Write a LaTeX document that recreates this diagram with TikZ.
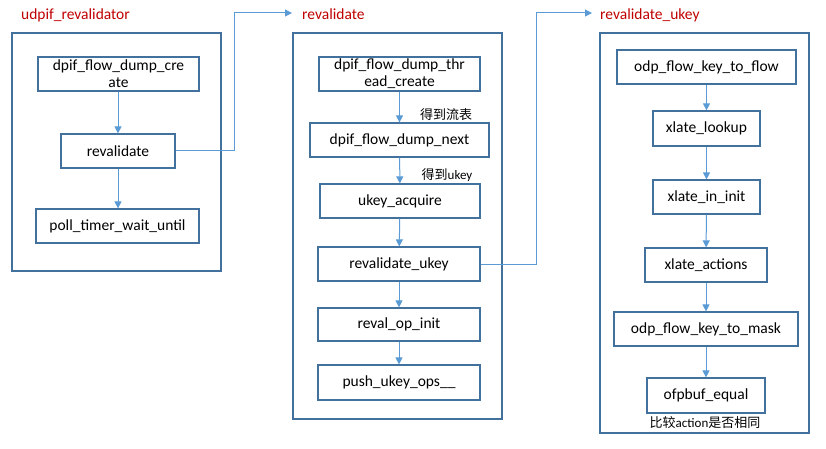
\documentclass[tikz,border=0pt]{standalone}
\usepackage{fontspec}
\setmainfont{Carlito}
\newfontfamily\cjk{Noto Sans CJK SC}
\usetikzlibrary{arrows.meta}
\definecolor{boxblue}{RGB}{65,113,156}
\definecolor{lineblue}{RGB}{91,155,213}
\definecolor{titlered}{RGB}{192,0,0}
\tikzset{
  fn/.style={draw=boxblue, line width=1.2pt, minimum height=34pt, inner sep=0pt,
    align=center, font=\fontsize{15.5}{17}\selectfont},
  group/.style={draw=boxblue, line width=1.2pt},
  call/.style={draw=lineblue, line width=1pt, -{Triangle[width=7pt,length=7pt]}},
  ttl/.style={anchor=west, inner sep=0pt, text=titlered, font=\fontsize{15.5}{17}\selectfont},
  note/.style={inner sep=0pt, font=\fontsize{13}{15}\selectfont}
}
\begin{document}
\begin{tikzpicture}[x=1pt,y=-1pt]
  \useasboundingbox (0,0) rectangle (826,449);
  % udpif_revalidator
  \node[ttl] (t1) at (21,15) {udpif\_revalidator};
  \draw[group] (12,33) rectangle (221,271);
  \node[fn, minimum width=161pt] (cre) at (118.5,74) {dpif\_flow\_dump\_cre\\ate};
  \node[fn, minimum width=114pt] (rev) at (118,151) {revalidate};
  \node[fn, minimum width=163pt] (poll) at (117.5,226) {poll\_timer\_wait\_until};
  \draw[call] (cre.south -| rev) -- (rev.north);
  \draw[call] (rev.south) -- (rev.south |- poll.north);

  % revalidate
  \node[ttl] (t2) at (302,14) {revalidate};
  \draw[group] (293,33) rectangle (502,419);
  \node[fn, minimum width=161pt] (thr) at (399.5,74) {dpif\_flow\_dump\_thr\\ead\_create};
  \node[fn, minimum width=179pt] (next) at (399.5,140) {dpif\_flow\_dump\_next};
  \node[fn, minimum width=160pt] (acq) at (400,201) {ukey\_acquire};
  \node[fn, minimum width=162pt] (rvuk) at (399,264) {revalidate\_ukey};
  \node[fn, minimum width=162pt, minimum height=33pt] (init) at (399,324.5) {reval\_op\_init};
  \node[fn, minimum width=162pt, minimum height=35pt] (push) at (399,382.5) {push\_ukey\_ops\_\_};
  \draw[call] (thr) -- (next);
  \draw[call] (next) -- (acq);
  \draw[call] (acq) -- (rvuk);
  \draw[call] (rvuk) -- (init);
  \draw[call] (init) -- (push);
  \node[note] (n1) at (446,115) {\cjk 得到流表};
  \node[note] (n2) at (447,175) {{\cjk 得到}ukey};

  % revalidate_ukey
  \node[ttl] (t3) at (600,15) {revalidate\_ukey};
  \draw[group] (600,33) rectangle (809,433);
  \node[fn, minimum width=179pt] (k2f) at (706.5,67) {odp\_flow\_key\_to\_flow};
  \node[fn, minimum width=107pt, minimum height=35pt] (look) at (706.5,128.5) {xlate\_lookup};
  \node[fn, minimum width=107pt] (inin) at (706.5,197) {xlate\_in\_init};
  \node[fn, minimum width=122pt] (act) at (706,265) {xlate\_actions};
  \node[fn, minimum width=184pt] (k2m) at (706,329) {odp\_flow\_key\_to\_mask};
  \node[fn, minimum width=118pt, minimum height=35pt] (eq) at (706,395.5) {ofpbuf\_equal};
  \draw[call] (k2f) -- (look);
  \draw[call] (look) -- (inin);
  \draw[call] (inin) -- (act);
  \draw[call] (act) -- (k2m);
  \draw[call] (k2m) -- (eq);
  \node[note] (n3) at (705,423) {{\cjk 比较}action{\cjk 是否相同}};

  % calls between the groups
  \coordinate (in2) at (292,13);
  \coordinate (in3) at (592,13);
  \draw[call] (rev.east) -- ++(59,0) |- (in2);
  \draw[call] (rvuk.east) -- ++(56,0) |- (in3);
\end{tikzpicture}
\end{document}
